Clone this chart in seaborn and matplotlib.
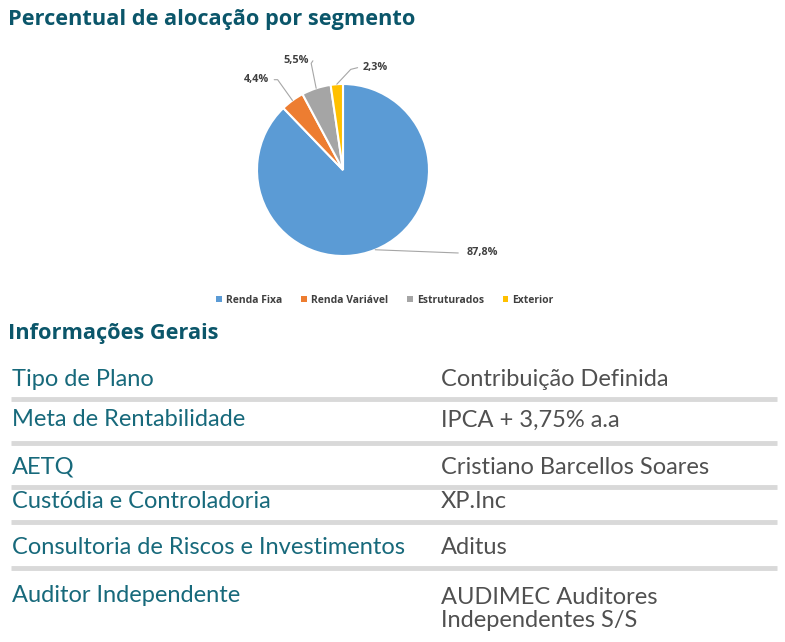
import numpy as np
import matplotlib
matplotlib.use("Agg")
import matplotlib.pyplot as plt
from matplotlib.patches import Patch
import seaborn as sns

# ---- data ----
segments = ["Renda Fixa", "Renda Variável", "Estruturados", "Exterior"]
shares = [87.8, 4.4, 5.5, 2.3]
share_labels = ["87,8%", "4,4%", "5,5%", "2,3%"]

info_labels = ["Tipo de Plano", "Meta de Rentabilidade", "AETQ",
               "Custódia e Controladoria", "Consultoria de Riscos e Investimentos",
               "Auditor Independente"]
info_values = ["Contribuição Definida", "IPCA + 3,75% a.a", "Cristiano Barcellos Soares",
               "XP.Inc", "Aditus", "AUDIMEC Auditores\nIndependentes S/S"]

# ---- style ----
sns.set_theme(style="white")
plt.rcParams['font.family'] = ['Lato', 'DejaVu Sans']
colors = sns.color_palette(["#5B9BD5", "#ED7D31", "#A5A5A5", "#FFC000"])
teal = "#0B566A"
teal_row = "#17697B"
gray_txt = "#505050"

W, H = 785, 642
fig = plt.figure(figsize=(W / 100, H / 100), dpi=100)
fig.patch.set_facecolor("white")

# background axes in pixel coordinates
bg = fig.add_axes([0, 0, 1, 1])
bg.set_xlim(0, W)
bg.set_ylim(H, 0)
bg.axis("off")

bg.text(8, 20, "Percentual de alocação por segmento", fontsize=15.7, fontweight="bold",
        color=teal, va="center", ha="left", family=["Open Sans", "DejaVu Sans"])
bg.text(8, 334, "Informações Gerais", fontsize=15.7, fontweight="bold",
        color=teal, va="center", ha="left", family=["Open Sans", "DejaVu Sans"])

# ---- pie ----
cx, cy, r = 343, 170, 86
pax = fig.add_axes([(cx - r) / W, (H - cy - r) / H, 2 * r / W, 2 * r / H])
wedges, _ = pax.pie(shares, colors=colors, startangle=90, counterclock=False,
                    wedgeprops=dict(edgecolor="white", linewidth=1.5))
pax.set_xlim(-1, 1)
pax.set_ylim(-1, 1)
pax.set_aspect("equal")
pax.axis("off")

# label placement (data units relative to radius) and leader elbows
label_pos = [(1.62, -0.965), (-1.0, 1.05), (-0.55, 1.27), (0.37, 1.19)]
elbow = [None, (-0.76, 1.05), (-0.37, 1.24), (0.09, 1.17)]
for w, lab, pos, el in zip(wedges, share_labels, label_pos, elbow):
    ang = np.deg2rad((w.theta1 + w.theta2) / 2)
    px, py = np.cos(ang), np.sin(ang)
    if el is None:
        xs = [px, pos[0] - 0.28]
        ys = [py, pos[1]]
    else:
        xs = [px, el[0], pos[0] + (0.2 if pos[0] < 0 else -0.2)]
        ys = [py, el[1], pos[1]]
    pax.plot(xs, ys, color="#A6A6A6", lw=0.8, clip_on=False)
    pax.text(pos[0], pos[1], lab, fontsize=7.8, fontweight="bold", color="#404040",
             ha="center", va="center", clip_on=False, family=["Open Sans", "DejaVu Sans"])

handles = [Patch(facecolor=c, edgecolor="none") for c in colors]
fig.legend(handles, segments, loc="center", bbox_to_anchor=(385 / W, 1 - 300 / H),
           ncol=4, frameon=False, handlelength=0.55, handleheight=0.55, handletextpad=0.4,
           columnspacing=1.8, prop=dict(family=["Open Sans", "DejaVu Sans"], size=7.5, weight="bold"),
           labelcolor="#404040")

# ---- info table ----
row_y = [380, 420, 467, 502, 547, 609]
sep_y = [399, 443, 487, 522, 568]
for lab, val, y in zip(info_labels, info_values, row_y):
    ly = 596 if "\n" in val else y
    bg.text(12, ly, lab, fontsize=17, fontweight="normal", color=teal_row, va="center", ha="left")
    bg.text(441, y, val, fontsize=17, fontweight="normal", color=gray_txt, va="center", ha="left",
            linespacing=1.1)
bg.hlines(sep_y, 11, 777, colors="#D9D9D9", lw=3.5)

fig.savefig("out.png", dpi=100, facecolor="white")
